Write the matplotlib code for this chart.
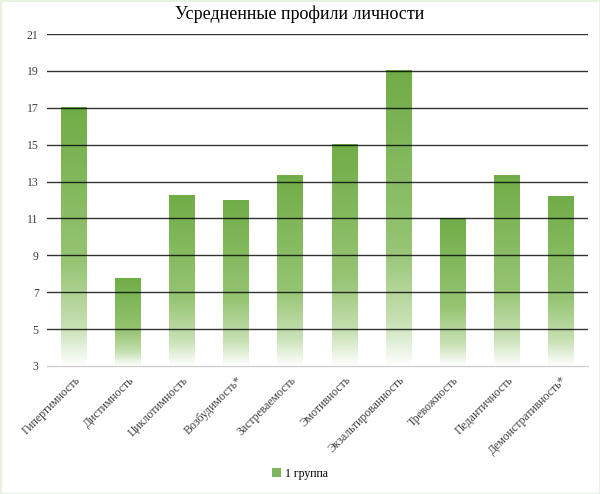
import matplotlib.pyplot as plt
import numpy as np
from matplotlib.colors import LinearSegmentedColormap
from matplotlib.patches import Patch, Rectangle

categories = ['Гипертимность', 'Дистимность', 'Циклотимность', 'Возбудимость*',
              'Застреваемость', 'Эмотивность', 'Экзальтированность', 'Тревожность',
              'Педантичность', 'Демонстративность*']
values = [17.0, 7.75, 12.25, 12.0, 13.33, 15.0, 19.0, 11.0, 13.33, 12.17]
yticks = [3, 5, 7, 9, 11, 13, 15, 17, 19, 21]
series_name = '1 группа'
title = 'Усредненные профили личности'

plt.rcParams['font.family'] = ['Liberation Serif', 'DejaVu Serif']

fig = plt.figure(figsize=(6.0, 4.94), dpi=100)
ax = fig.add_axes([47/600, 1 - 366/494, 541/600, 332/494])

# gradient: strong green at top fading to white at bottom
cmap = LinearSegmentedColormap.from_list('grad', [
    (0.0, (1, 1, 1)),
    (0.15, (200/255, 225/255, 180/255)),
    (0.4, (150/255, 196/255, 115/255)),
    (1.0, (112/255, 173/255, 71/255)),
])
grad = np.linspace(0, 1, 256).reshape(-1, 1)

x = np.arange(len(categories))
bars = ax.bar(x, np.array(values) - 3, bottom=3, width=0.48, color='none',
              edgecolor='none', zorder=2)
for rect in bars:
    x0, y0 = rect.get_x(), rect.get_y()
    w, h = rect.get_width(), rect.get_height()
    ax.imshow(grad, extent=(x0, x0 + w, y0, y0 + h), origin='lower',
              cmap=cmap, aspect='auto', zorder=2, interpolation='bilinear')

ax.set_xlim(-0.5, len(categories) - 0.5)
ax.set_ylim(3, 21)
ax.set_yticks(yticks)
ax.set_yticklabels([str(t) for t in yticks], fontsize=8.5, color='#404040')
ax.set_xticks(x)
ax.set_xticklabels(categories, rotation=45, ha='right', rotation_mode='anchor',
                   fontsize=8.5, color='#404040')
ax.tick_params(length=0, pad=6)

for t in yticks[1:]:
    ax.axhline(t, color='black', linewidth=1.0, alpha=0.8, zorder=3)

for s in ['top', 'right', 'left']:
    ax.spines[s].set_visible(False)
ax.spines['bottom'].set_color('#d0d0d0')
ax.spines['bottom'].set_linewidth(1.0)

fig.text(0.5, 1 - 14/494, title, ha='center', va='center', fontsize=13)

fig.legend(handles=[Patch(facecolor='#7db55c', edgecolor='none', label=series_name)],
           loc='center', bbox_to_anchor=(0.5, 1 - 474/494), frameon=False,
           fontsize=8.5, handlelength=0.8, handleheight=0.8, handletextpad=0.3)

fig.patches.append(Rectangle((0, 0), 1, 1, transform=fig.transFigure, fill=False,
                             edgecolor='#e6f1e0', linewidth=2))

fig.savefig('out.png', dpi=100)
